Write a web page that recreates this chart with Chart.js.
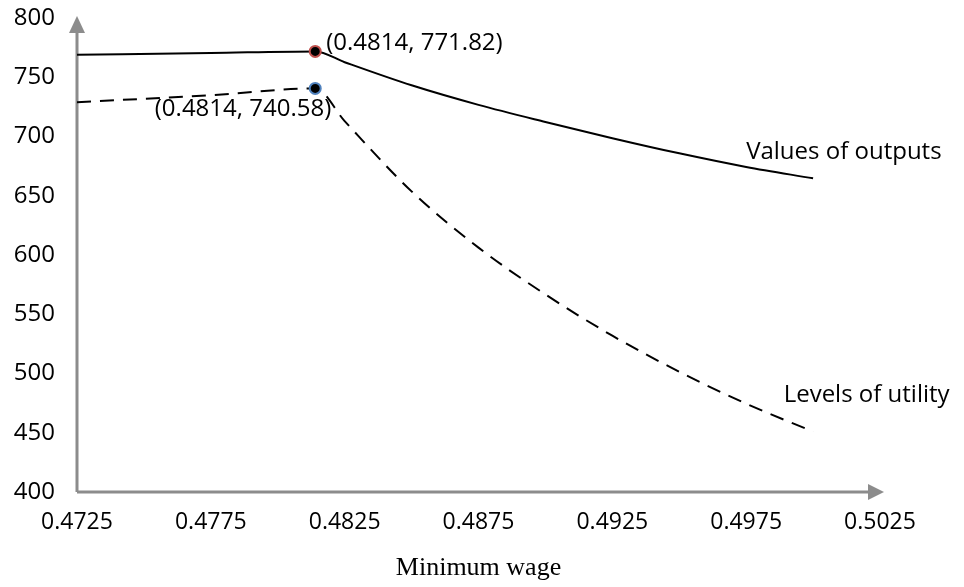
<!DOCTYPE html>
<html>
<head>
<meta charset="utf-8">
<script src="https://cdn.jsdelivr.net/npm/chart.js@4.4.1/dist/chart.umd.min.js"></script>
<style>
  html, body { margin: 0; padding: 0; background: #fff; }
  #wrap { width: 964px; height: 587px; position: relative; }
</style>
</head>
<body>
<div id="wrap"><canvas id="chart"></canvas></div>
<script>
// Minimum wage (x) and the two series
const wage          = [0.4725, 0.4775, 0.4814, 0.4825, 0.485, 0.4875, 0.49, 0.4925, 0.495, 0.4975, 0.5];
const outputValues  = [769, 770.5, 771.82, 762.7, 743.2, 726.7, 712.3, 698.6, 685.8, 674.3, 664.7];
const utilityLevels = [729, 734.8, 740.58, 713, 653.7, 606.2, 566.7, 531.9, 501.5, 474.5, 451];

// Axis ticks
const xTicks = [0.4725, 0.4775, 0.4825, 0.4875, 0.4925, 0.4975, 0.5025];
const yTicks = [400, 450, 500, 550, 600, 650, 700, 750, 800];

// The marked kink point
const kinkWage = 0.4814;
const kinkOutput = 771.82;
const kinkUtility = 740.58;

const SANS = "'Open Sans', 'Noto Sans', sans-serif";
const AXIS_GRAY = '#8c8c8c';

const toPoints = (ys) => wage.map((x, i) => ({ x, y: ys[i] }));
const kinkRadius = (ctx) => (ctx.raw && ctx.raw.x === kinkWage ? 5.5 : 0);

// Gray axes with arrow heads, drawn under the lines
const arrowAxes = {
  id: 'arrowAxes',
  beforeDatasetsDraw(chart) {
    const { ctx, chartArea: a } = chart;
    ctx.save();
    ctx.strokeStyle = AXIS_GRAY;
    ctx.fillStyle = AXIS_GRAY;
    ctx.lineWidth = 3;
    ctx.beginPath();
    ctx.moveTo(a.left, a.bottom);
    ctx.lineTo(a.left, a.top + 10);
    ctx.moveTo(a.left, a.bottom);
    ctx.lineTo(a.right - 8, a.bottom);
    ctx.stroke();
    // y arrow
    ctx.beginPath();
    ctx.moveTo(a.left, a.top - 2);
    ctx.lineTo(a.left - 8, a.top + 15);
    ctx.lineTo(a.left + 8, a.top + 15);
    ctx.closePath();
    ctx.fill();
    // x arrow
    ctx.beginPath();
    ctx.moveTo(a.right + 4, a.bottom);
    ctx.lineTo(a.right - 12, a.bottom - 8);
    ctx.lineTo(a.right - 12, a.bottom + 8);
    ctx.closePath();
    ctx.fill();
    ctx.restore();
  }
};

// Point labels and series names
const textLabels = {
  id: 'textLabels',
  afterDatasetsDraw(chart) {
    const { ctx, scales: { x, y } } = chart;
    const px = x.getPixelForValue(kinkWage);
    ctx.save();
    ctx.fillStyle = '#000';
    ctx.font = `24px ${SANS}`;
    ctx.textBaseline = 'middle';

    ctx.textAlign = 'left';
    ctx.fillText(`(${kinkWage}, ${kinkOutput})`, px + 11, y.getPixelForValue(kinkOutput) - 8);
    ctx.textAlign = 'right';
    ctx.fillText(`(${kinkWage}, ${kinkUtility})`, px + 16, y.getPixelForValue(kinkUtility) + 21);

    ctx.textAlign = 'left';
    ctx.fillText('Values of outputs', x.getPixelForValue(0.4975), y.getPixelForValue(687));
    ctx.fillText('Levels of utility', x.getPixelForValue(0.4989), y.getPixelForValue(482));
    ctx.restore();
  }
};

new Chart(document.getElementById('chart'), {
  type: 'line',
  data: {
    datasets: [
      {
        label: 'Values of outputs',
        data: toPoints(outputValues),
        borderColor: '#000',
        borderWidth: 2,
        cubicInterpolationMode: 'monotone',
        pointRadius: kinkRadius,
        pointBackgroundColor: '#000',
        pointBorderColor: '#c0504d',
        pointBorderWidth: 2
      },
      {
        label: 'Levels of utility',
        data: toPoints(utilityLevels),
        borderColor: '#000',
        borderWidth: 2,
        borderDash: [14, 9],
        cubicInterpolationMode: 'monotone',
        pointRadius: kinkRadius,
        pointBackgroundColor: '#000',
        pointBorderColor: '#4f81bd',
        pointBorderWidth: 2
      }
    ]
  },
  options: {
    responsive: true,
    maintainAspectRatio: false,
    animation: false,
    layout: { padding: { top: 18, right: 84, left: 0, bottom: 0 } },
    plugins: {
      legend: { display: false },
      tooltip: { enabled: false }
    },
    scales: {
      x: {
        type: 'linear',
        min: xTicks[0],
        max: xTicks[xTicks.length - 1],
        afterBuildTicks: (s) => { s.ticks = xTicks.map(v => ({ value: v })); },
        afterFit: (s) => { s.height = 95; s.paddingLeft = 0; s.paddingRight = 0; },
        grid: { display: false, drawTicks: false },
        border: { display: false },
        ticks: {
          color: '#000',
          padding: 17,
          maxRotation: 0,
          font: { family: SANS, size: 23 },
          callback: (v) => Number(v).toFixed(4)
        },
        title: {
          display: true,
          text: 'Minimum wage',
          color: '#000',
          padding: { top: 0, bottom: 3 },
          font: { family: "'Liberation Serif', 'Times New Roman', serif", size: 26 }
        }
      },
      y: {
        min: yTicks[0],
        max: yTicks[yTicks.length - 1],
        afterBuildTicks: (s) => { s.ticks = yTicks.map(v => ({ value: v })); },
        afterFit: (s) => { s.width = 77; s.paddingTop = 0; s.paddingBottom = 0; },
        grid: { display: false, drawTicks: false },
        border: { display: false },
        ticks: {
          color: '#000',
          padding: 22,
          font: { family: SANS, size: 24 }
        }
      }
    }
  },
  plugins: [arrowAxes, textLabels]
});
</script>
</body>
</html>
